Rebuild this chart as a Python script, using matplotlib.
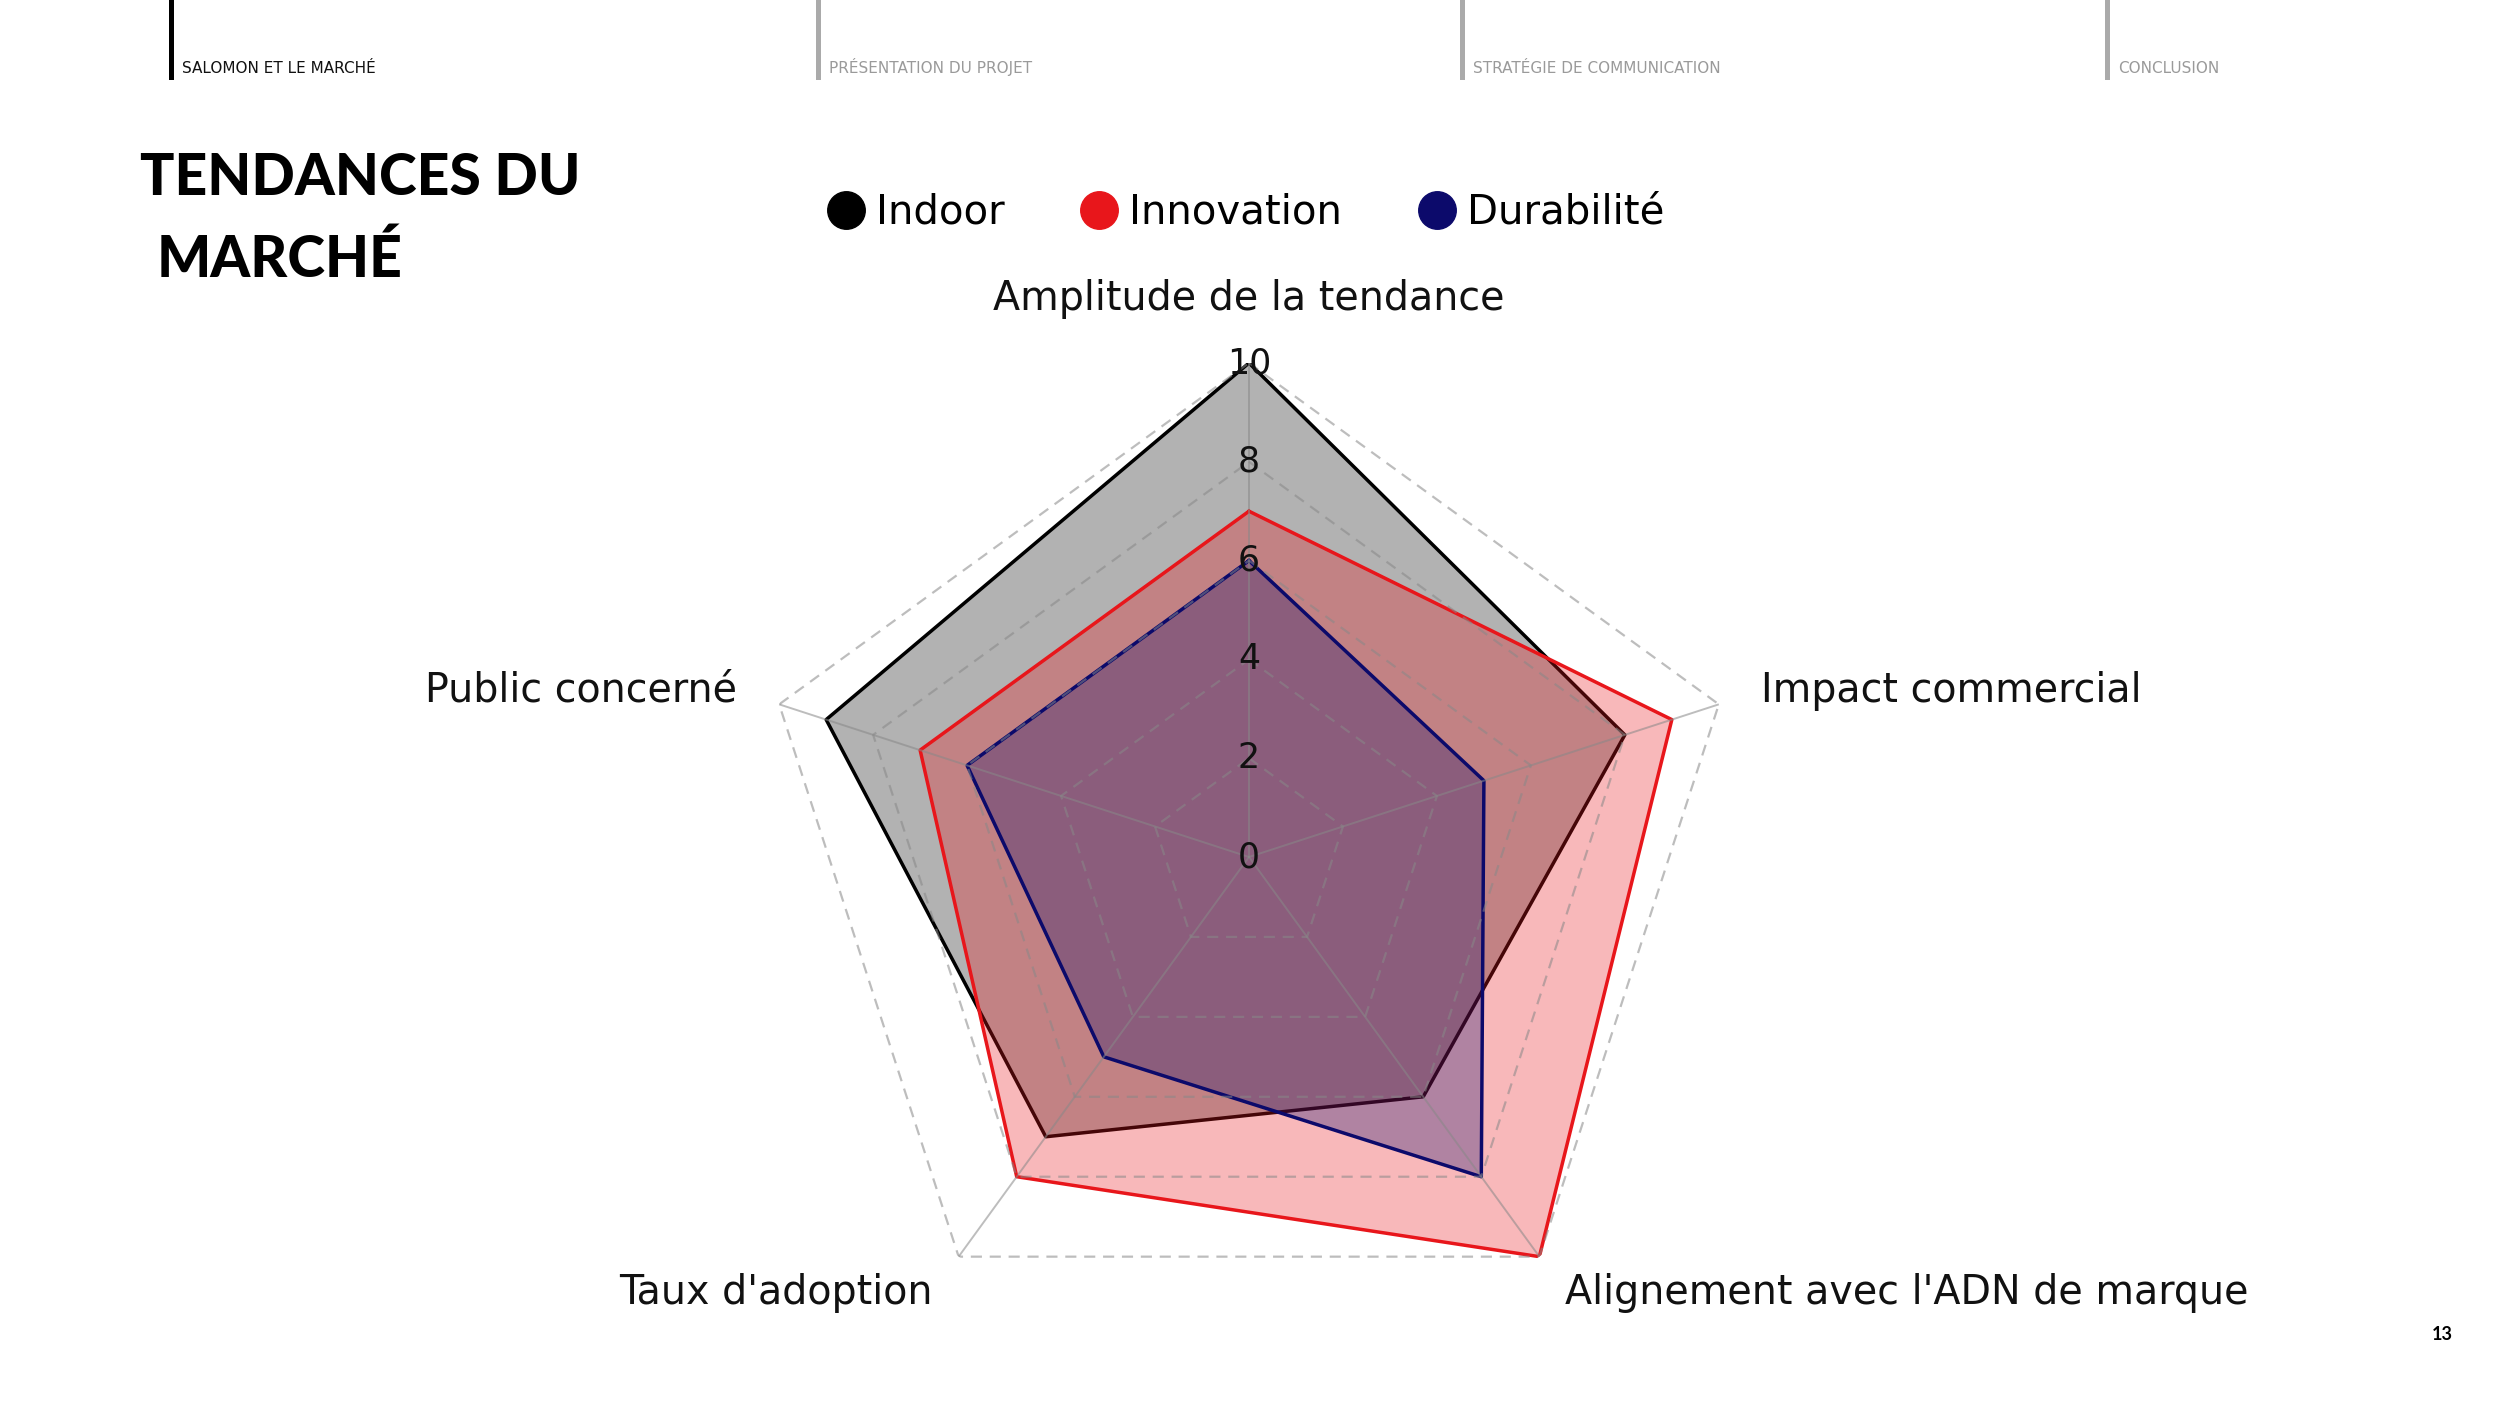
import numpy as np
import matplotlib
matplotlib.use("Agg")
import matplotlib.pyplot as plt
from matplotlib.lines import Line2D

# données
categories = ["Amplitude de la tendance", "Impact commercial",
              "Alignement avec l'ADN de marque", "Taux d'adoption",
              "Public concerné"]
indoor = [10, 8, 6, 7, 9]
innovation = [7, 9, 10, 8, 7]
durabilite = [6, 5, 8, 5, 6]
series_names = ["Indoor", "Innovation", "Durabilité"]
rings = [2, 4, 6, 8, 10]
radial_labels = [0, 2, 4, 6, 8, 10]
sections = ["SALOMON ET LE MARCHÉ", "PRÉSENTATION DU PROJET",
            "STRATÉGIE DE COMMUNICATION", "CONCLUSION"]

colors = ["#000000", "#e8161b", "#0c0a6b"]
W, H = 2500, 1406
FONT = ["DejaVu Sans"]
TITLE_FONT = ["Lato", "DejaVu Sans"]

fig = plt.figure(figsize=(W / 100, H / 100), dpi=100)
fig.patch.set_facecolor("white")

# axe polaire : centre (1249, 857) px, rayon 494 px
cx, cy, R = 1249, 857, 494
ax = fig.add_axes([(cx - R) / W, (H - cy - R) / H, 2 * R / W, 2 * R / H],
                  projection="polar")
ax.set_theta_offset(np.pi / 2)
ax.set_theta_direction(-1)
ax.set_ylim(0, 10)
ax.grid(False)
ax.spines["polar"].set_visible(False)
ax.set_xticks([])
ax.set_yticks([])
ax.patch.set_alpha(0)

n = len(categories)
angles = np.linspace(0, 2 * np.pi, n, endpoint=False)
closed = np.concatenate([angles, angles[:1]])

for vals, col in zip([indoor, innovation, durabilite], colors):
    v = np.array(vals + vals[:1], dtype=float)
    ax.plot(closed, v, color=col, lw=2.5, zorder=2)
    ax.fill(closed, v, color=col, alpha=0.3, zorder=2)

# grille pentagonale au-dessus des remplissages
for r in rings:
    ax.plot(closed, [r] * (n + 1), color="#888888", alpha=0.55, lw=1.6,
            ls=(0, (5, 3.5)), zorder=3)
for a in angles:
    ax.plot([a, a], [0, 10], color="#888888", alpha=0.55, lw=1.4, zorder=3)

for r in radial_labels:
    ax.text(0, r, str(r), ha="center", va="center", fontsize=25,
            family=FONT, color="#111111", zorder=4)

label_pos = [(11.3, "center"), (10.9, "left"), (10.9, "left"),
             (10.9, "right"), (10.9, "right")]
for a, lab, (r, ha) in zip(angles, categories, label_pos):
    ax.text(a, r, lab, ha=ha, va="center", fontsize=28.5, family=FONT,
            color="#111111", clip_on=False)

# légende
handles = [Line2D([], [], ls="", marker="o", markersize=27, color=c)
           for c in colors]
fig.legend(handles, series_names, loc="center", ncol=3, frameon=False,
           bbox_to_anchor=(1245 / W, 1 - 213 / H),
           prop={"family": FONT, "size": 29},
           handletextpad=0.25, columnspacing=1.85, handlelength=1.0)

# titre
fig.text(140 / W, 1 - 195 / H, "TENDANCES DU", fontsize=41,
         family=TITLE_FONT, fontweight="black", va="baseline", color="black")
fig.text(157 / W, 1 - 277 / H, "MARCHÉ", fontsize=41,
         family=TITLE_FONT, fontweight="black", va="baseline", color="black")

# en-tête de navigation
bar_x = [171, 818, 1462, 2107]
for i, (x, s) in enumerate(zip(bar_x, sections)):
    c = "black" if i == 0 else "#aaaaaa"
    tc = "#111111" if i == 0 else "#9a9a9a"
    fig.add_artist(Line2D([x / W, x / W], [1, 1 - 77 / H], color=c, lw=3.6))
    fig.text((x + 11) / W, 1 - 73 / H, s, fontsize=11, color=tc,
             family=["Liberation Sans Narrow", "DejaVu Sans"], va="baseline")

fig.text(2442 / W, 1 - 1335 / H, "13", fontsize=13, fontweight="bold",
         family=TITLE_FONT, ha="center", va="center")

fig.savefig("out.png", dpi=100, facecolor="white")
